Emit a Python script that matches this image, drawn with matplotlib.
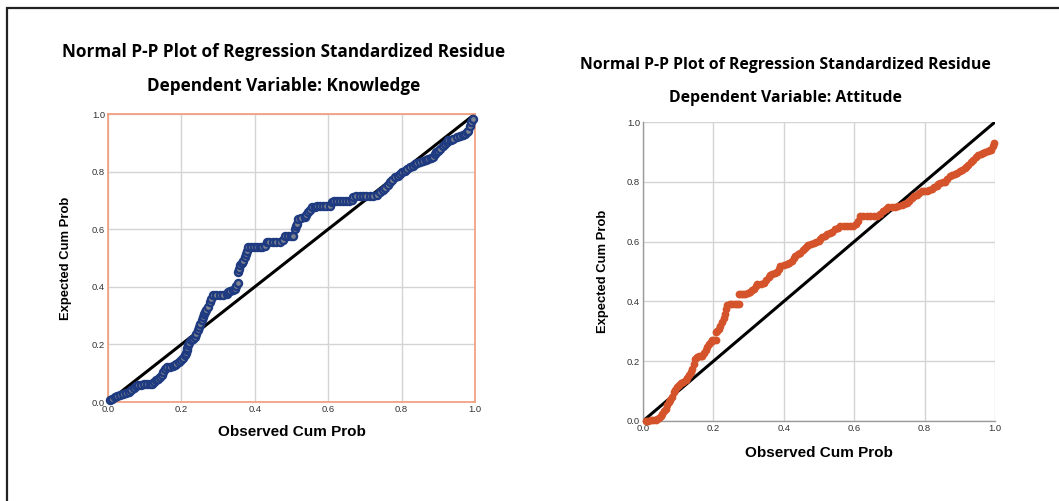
import matplotlib
matplotlib.use("Agg")
import matplotlib.pyplot as plt
from matplotlib.patches import Rectangle

# P-P plots, observed vs expected cumulative probability

knowledge_obs = [0.005, 0.012, 0.018, 0.025, 0.034, 0.042, 0.050, 0.057, 0.064, 0.070,
                 0.076, 0.082, 0.090, 0.098, 0.106, 0.114, 0.120, 0.126, 0.132, 0.137,
                 0.141, 0.146, 0.150, 0.155, 0.160, 0.168, 0.177, 0.182, 0.186, 0.193,
                 0.200, 0.205, 0.209, 0.212, 0.214, 0.216, 0.218, 0.222, 0.227, 0.232,
                 0.236, 0.241, 0.245, 0.248, 0.250, 0.255, 0.259, 0.262, 0.264, 0.268,
                 0.273, 0.277, 0.282, 0.286, 0.295, 0.305, 0.314, 0.323, 0.328, 0.332,
                 0.340, 0.345, 0.350, 0.355, 0.355, 0.357, 0.359, 0.364, 0.368, 0.373,
                 0.377, 0.380, 0.382, 0.390, 0.398, 0.405, 0.413, 0.420, 0.427, 0.432,
                 0.440, 0.450, 0.459, 0.468, 0.477, 0.482, 0.490, 0.498, 0.505, 0.509,
                 0.512, 0.514, 0.518, 0.527, 0.536, 0.540, 0.545, 0.550, 0.555, 0.563,
                 0.570, 0.577, 0.585, 0.595, 0.605, 0.609, 0.616, 0.624, 0.632, 0.640,
                 0.648, 0.656, 0.664, 0.668, 0.676, 0.686, 0.695, 0.704, 0.713, 0.723,
                 0.732, 0.741, 0.748, 0.755, 0.762, 0.768, 0.775, 0.782, 0.789, 0.795,
                 0.802, 0.809, 0.816, 0.823, 0.830, 0.836, 0.843, 0.850, 0.859, 0.866,
                 0.873, 0.880, 0.886, 0.891, 0.895, 0.900, 0.905, 0.912, 0.918, 0.923,
                 0.927, 0.934, 0.941, 0.950, 0.959, 0.966, 0.973, 0.978, 0.982, 0.986,
                 0.990, 0.995]
knowledge_exp = [0.006, 0.012, 0.017, 0.022, 0.026, 0.028, 0.030, 0.035, 0.040, 0.047,
                 0.054, 0.058, 0.060, 0.061, 0.061, 0.061, 0.064, 0.068, 0.075, 0.081,
                 0.087, 0.095, 0.104, 0.113, 0.121, 0.122, 0.124, 0.128, 0.133, 0.140,
                 0.145, 0.152, 0.162, 0.170, 0.179, 0.188, 0.197, 0.205, 0.214, 0.220,
                 0.225, 0.237, 0.249, 0.260, 0.272, 0.284, 0.295, 0.304, 0.312, 0.320,
                 0.329, 0.347, 0.358, 0.370, 0.370, 0.370, 0.373, 0.376, 0.382, 0.387,
                 0.390, 0.393, 0.403, 0.413, 0.451, 0.462, 0.474, 0.483, 0.491, 0.503,
                 0.514, 0.526, 0.538, 0.538, 0.538, 0.538, 0.538, 0.538, 0.540, 0.555,
                 0.555, 0.555, 0.555, 0.557, 0.561, 0.578, 0.578, 0.578, 0.578, 0.601,
                 0.610, 0.618, 0.636, 0.638, 0.642, 0.650, 0.659, 0.668, 0.676, 0.678,
                 0.679, 0.679, 0.679, 0.679, 0.680, 0.694, 0.697, 0.699, 0.699, 0.699,
                 0.699, 0.699, 0.700, 0.711, 0.714, 0.716, 0.717, 0.717, 0.717, 0.717,
                 0.720, 0.728, 0.735, 0.743, 0.753, 0.763, 0.772, 0.780, 0.785, 0.790,
                 0.797, 0.803, 0.809, 0.815, 0.821, 0.827, 0.830, 0.832, 0.838, 0.841,
                 0.844, 0.848, 0.852, 0.860, 0.867, 0.873, 0.879, 0.888, 0.896, 0.902,
                 0.908, 0.911, 0.913, 0.919, 0.925, 0.928, 0.931, 0.936, 0.942, 0.960,
                 0.972, 0.983]

attitude_obs = [0.008, 0.015, 0.022, 0.029, 0.036, 0.041, 0.045, 0.050, 0.055, 0.060,
                0.064, 0.069, 0.074, 0.078, 0.083, 0.088, 0.092, 0.097, 0.102, 0.107,
                0.114, 0.121, 0.126, 0.131, 0.136, 0.140, 0.145, 0.149, 0.154, 0.159,
                0.164, 0.168, 0.173, 0.178, 0.183, 0.187, 0.192, 0.197, 0.202, 0.206,
                0.206, 0.211, 0.215, 0.220, 0.225, 0.230, 0.234, 0.237, 0.239, 0.246,
                0.253, 0.260, 0.266, 0.272, 0.272, 0.278, 0.285, 0.291, 0.298, 0.305,
                0.310, 0.315, 0.320, 0.324, 0.334, 0.343, 0.350, 0.357, 0.362, 0.367,
                0.374, 0.381, 0.386, 0.390, 0.400, 0.409, 0.416, 0.423, 0.428, 0.433,
                0.440, 0.447, 0.454, 0.461, 0.466, 0.470, 0.478, 0.485, 0.492, 0.499,
                0.504, 0.509, 0.516, 0.523, 0.530, 0.537, 0.546, 0.553, 0.560, 0.570,
                0.579, 0.589, 0.598, 0.605, 0.612, 0.617, 0.626, 0.636, 0.645, 0.655,
                0.664, 0.674, 0.683, 0.690, 0.697, 0.706, 0.716, 0.725, 0.735, 0.742,
                0.749, 0.756, 0.764, 0.771, 0.778, 0.785, 0.792, 0.799, 0.806, 0.813,
                0.820, 0.827, 0.834, 0.839, 0.844, 0.851, 0.858, 0.865, 0.872, 0.879,
                0.886, 0.893, 0.900, 0.907, 0.914, 0.919, 0.924, 0.931, 0.938, 0.945,
                0.952, 0.959, 0.966, 0.973, 0.980, 0.985, 0.989, 0.995, 0.997]
attitude_exp = [0.000, 0.001, 0.002, 0.003, 0.004, 0.007, 0.011, 0.017, 0.024, 0.032,
                0.041, 0.052, 0.063, 0.071, 0.080, 0.097, 0.105, 0.113, 0.120, 0.127,
                0.131, 0.136, 0.144, 0.153, 0.164, 0.175, 0.192, 0.208, 0.214, 0.219,
                0.219, 0.219, 0.227, 0.236, 0.247, 0.258, 0.265, 0.271, 0.271, 0.271,
                0.297, 0.302, 0.308, 0.319, 0.330, 0.344, 0.358, 0.374, 0.389, 0.390,
                0.391, 0.391, 0.391, 0.391, 0.425, 0.425, 0.425, 0.425, 0.428, 0.431,
                0.437, 0.442, 0.450, 0.457, 0.459, 0.461, 0.471, 0.481, 0.487, 0.493,
                0.496, 0.498, 0.509, 0.520, 0.522, 0.525, 0.530, 0.536, 0.545, 0.553,
                0.558, 0.562, 0.571, 0.579, 0.585, 0.590, 0.593, 0.596, 0.599, 0.602,
                0.609, 0.615, 0.620, 0.624, 0.629, 0.633, 0.641, 0.647, 0.652, 0.652,
                0.652, 0.652, 0.652, 0.660, 0.668, 0.685, 0.685, 0.685, 0.685, 0.685,
                0.685, 0.693, 0.701, 0.708, 0.715, 0.715, 0.715, 0.718, 0.722, 0.725,
                0.729, 0.737, 0.746, 0.751, 0.757, 0.762, 0.768, 0.769, 0.770, 0.773,
                0.777, 0.781, 0.785, 0.791, 0.796, 0.798, 0.801, 0.810, 0.818, 0.822,
                0.826, 0.830, 0.835, 0.840, 0.846, 0.851, 0.857, 0.865, 0.874, 0.882,
                0.890, 0.893, 0.896, 0.899, 0.902, 0.905, 0.908, 0.920, 0.931]

ticks = [0.0, 0.2, 0.4, 0.6, 0.8, 1.0]
tick_labels = ['0.0', '0.2', '0.4', '0.6', '0.8', '1.0']
title_1 = 'Normal P-P Plot of Regression Standardized Residue'
title_2a = 'Dependent Variable: Knowledge'
title_2b = 'Dependent Variable: Attitude'

labelfont = ['Liberation Sans', 'DejaVu Sans']
titlefont = ['Open Sans', 'DejaVu Sans']

fig = plt.figure(figsize=(10.59, 5.01), dpi=100)
fig.patch.set_facecolor('white')

# page border (cut off on right and bottom)
fig.patches.append(Rectangle((7 / 1059, -0.2), 1.2, 0.2 + (501 - 7.5) / 501,
                             transform=fig.transFigure, fill=False,
                             edgecolor='#222222', linewidth=1.6))

ax1 = fig.add_axes([108 / 1059, (501 - 402) / 501, 367 / 1059, 288 / 501])
ax2 = fig.add_axes([643 / 1059, (501 - 421) / 501, 352 / 1059, 299 / 501])


def style(ax):
    ax.set_xlim(0, 1)
    ax.set_ylim(0, 1)
    ax.set_xticks(ticks)
    ax.set_yticks(ticks)
    ax.set_xticklabels(tick_labels, family=labelfont, fontsize=6.8, color='#333333')
    ax.set_yticklabels(tick_labels, family=labelfont, fontsize=6.8, color='#333333')
    ax.tick_params(length=0, pad=2)
    ax.grid(True, color='#d4d4d4', linewidth=1.0)
    ax.set_axisbelow(True)
    ax.set_xlabel('Observed Cum Prob', family=labelfont, fontweight='bold', fontsize=11, va='center')
    ax.set_ylabel('Expected Cum Prob', family=labelfont, fontweight='bold', fontsize=9.4, va='center')


style(ax1)
for s in ax1.spines.values():
    s.set_color('#f29a78')
    s.set_linewidth(1.2)
ax1.plot([0, 1], [0, 1], color='black', linewidth=2.2, zorder=2)
ax1.plot(knowledge_obs, knowledge_exp, 'o', markersize=5.1, markerfacecolor='#7f8390',
         markeredgecolor='#1e3a80', markeredgewidth=1.7, zorder=3, clip_on=False)
ax1.xaxis.set_label_coords(0.5, -0.104)
ax1.yaxis.set_label_coords(-0.114, 0.5)

style(ax2)
ax2.spines['top'].set_visible(False)
ax2.spines['right'].set_visible(False)
for s in ['left', 'bottom']:
    ax2.spines[s].set_color('#9a9a9a')
    ax2.spines[s].set_linewidth(1.0)
ax2.plot([0, 1], [0, 1], color='black', linewidth=2.2, zorder=2)
ax2.plot(attitude_obs, attitude_exp, 'o', markersize=5.6, color='#d4532b',
         markeredgewidth=0, zorder=3, clip_on=False)
ax2.xaxis.set_label_coords(0.5, -0.107)
ax2.yaxis.set_label_coords(-0.114, 0.5)

fig.text(284 / 1059, 1 - 52 / 501, title_1, family=titlefont, fontweight='bold',
         fontsize=12.3, ha='center', va='center', color='black')
fig.text(284 / 1059, 1 - 86 / 501, title_2a, family=titlefont, fontweight='bold',
         fontsize=12.3, ha='center', va='center', color='black')
fig.text(785 / 1059, 1 - 65 / 501, title_1, family=titlefont, fontweight='bold',
         fontsize=11.4, ha='center', va='center', color='black')
fig.text(785 / 1059, 1 - 98 / 501, title_2b, family=titlefont, fontweight='bold',
         fontsize=11.4, ha='center', va='center', color='black')

fig.savefig('out.png', dpi=100)
